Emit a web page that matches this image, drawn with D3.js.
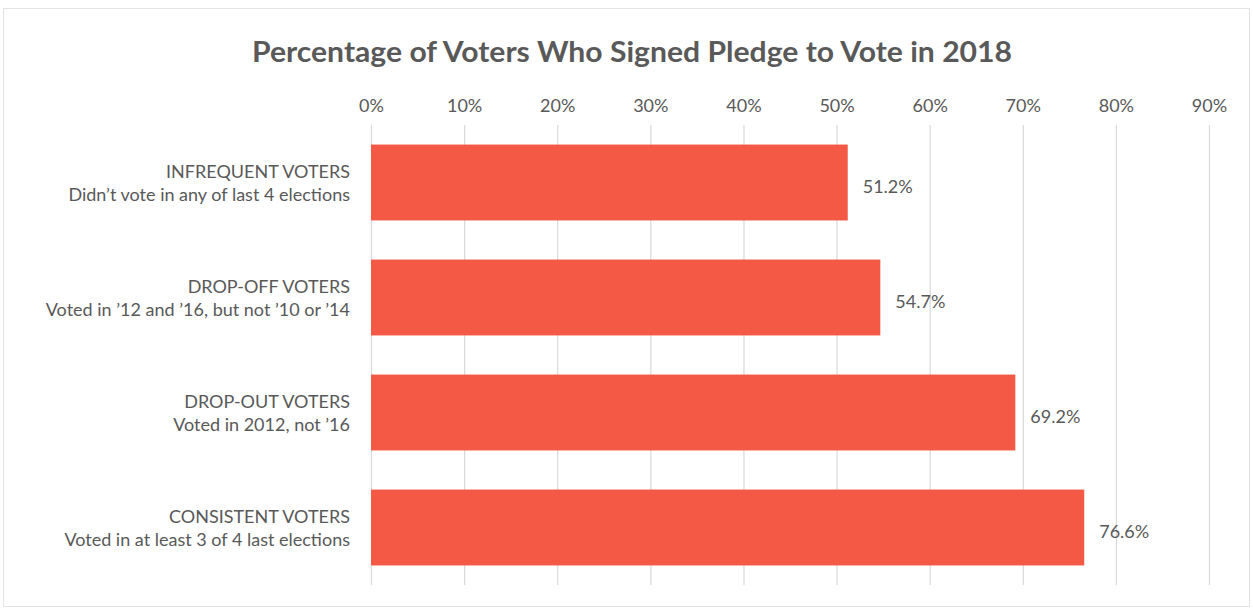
<!DOCTYPE html>
<html><head><meta charset="utf-8">
<script src="https://cdn.jsdelivr.net/npm/d3@7"></script>
<style>body{margin:0;background:#fff}</style>
</head><body>
<svg id="c" width="1253" height="610"></svg>
<script>
const categories = ["INFREQUENT VOTERS", "DROP-OFF VOTERS", "DROP-OUT VOTERS", "CONSISTENT VOTERS"];
const subtitles = ["Didn\u2019t vote in any of last 4 elections", "Voted in \u201912 and \u201916, but not \u201910 or \u201914", "Voted in 2012, not \u201916", "Voted in at least 3 of 4 last elections"];
const values = [51.2, 54.7, 69.2, 76.6];
const ticks = [0, 10, 20, 30, 40, 50, 60, 70, 80, 90];
const title = "Percentage of Voters Who Signed Pledge to Vote in 2018";

const svg = d3.select("#c");
const font = "Lato, 'Open Sans', sans-serif";
const grey = "#595959";
svg.append("rect").attr("x",3.5).attr("y",8.5).attr("width",1246).attr("height",598)
  .attr("fill","#fff").attr("stroke","#e3e3e3");

const x = d3.scaleLinear().domain([0,90]).range([371,1209]);
const y = d3.scaleBand().domain(categories).range([125,585]).paddingInner(0.34).paddingOuter(0.17);

svg.append("text").attr("x",632).attr("y",62).attr("text-anchor","middle")
  .attr("font-family","Lato, sans-serif").attr("font-weight","bold").attr("font-size",28).attr("fill",grey)
  .attr("textLength",760).attr("lengthAdjust","spacingAndGlyphs").text(title);

const ax = svg.append("g").attr("transform","translate(0,125)")
  .call(d3.axisTop(x).tickValues(ticks).tickFormat(d=>d+"%").tickSize(-460).tickPadding(13));
ax.select(".domain").remove();
ax.selectAll(".tick line").attr("stroke","#d9d9d9").attr("stroke-width",1.2);
ax.selectAll(".tick text").attr("font-family",font).attr("font-size",18).attr("fill",grey);

svg.append("g").selectAll("rect").data(values).join("rect")
  .attr("x",x(0)).attr("y",(d,i)=>y(categories[i]))
  .attr("width",d=>x(d)-x(0)).attr("height",y.bandwidth()).attr("fill","#f45945");

svg.append("g").selectAll("text").data(values).join("text")
  .attr("x",d=>x(d)+15).attr("y",(d,i)=>y(categories[i])+y.bandwidth()/2+10)
  .attr("font-family",font).attr("font-size",18).attr("fill",grey)
  .text(d=>d.toFixed(1)+"%");

const lab = svg.append("g").selectAll("text").data(categories).join("text")
  .attr("text-anchor","end").attr("font-family",font).attr("font-size",18).attr("fill",grey);
lab.append("tspan").attr("x",350).attr("y",(d)=>y(d)+y.bandwidth()/2-5).text(d=>d);
lab.append("tspan").attr("x",350).attr("y",(d)=>y(d)+y.bandwidth()/2+18).text((d,i)=>subtitles[i]);
</script>
</body></html>
